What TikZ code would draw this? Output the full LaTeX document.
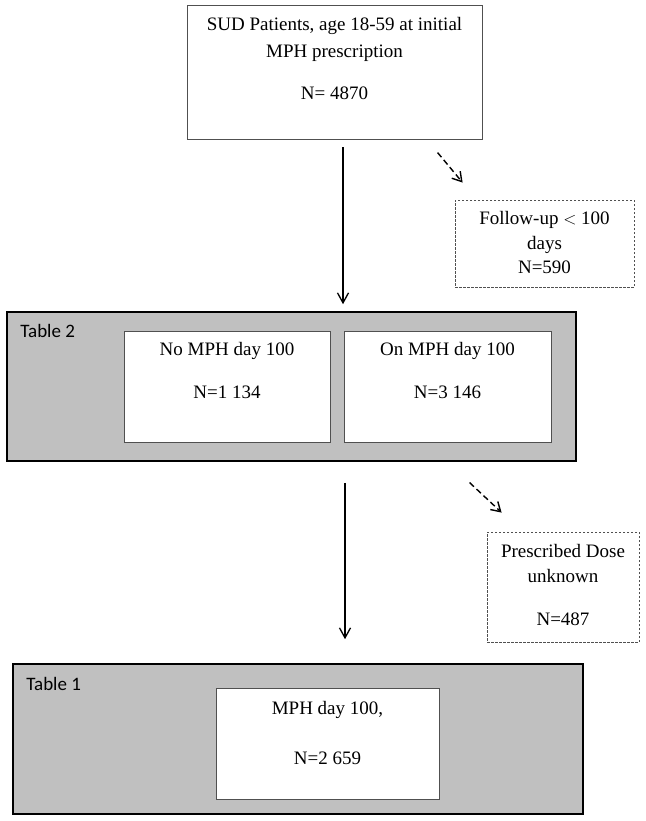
\documentclass[tikz,border=0pt]{standalone}
\usepackage{fontspec}
\setmainfont{Liberation Serif}
\newfontfamily\calibri{Carlito}
\usetikzlibrary{arrows.meta, positioning, calc}

\definecolor{tabgray}{RGB}{192,192,192}
\definecolor{edgegray}{RGB}{80,80,80}

\tikzset{
  box/.style={draw=edgegray, line width=0.9pt, fill=white, inner sep=0pt},
  tabbox/.style={draw=black, line width=1.6pt, fill=tabgray, inner sep=0pt},
  dashbox/.style={draw=edgegray, line width=0.8pt, dash pattern=on 2.5pt off 1.5pt, inner sep=0pt},
  txt/.style={font=\fontsize{19}{25}\selectfont, align=center, inner sep=0pt},
  lbl/.style={font=\calibri\fontsize{19}{23}\selectfont, inner sep=0pt},
  flow/.style={-{Straight Barb[length=10pt,width=11pt]}, line width=1.3pt},
  skip/.style={-{Straight Barb[length=9pt,width=11pt]}, line width=1.4pt, dash pattern=on 6pt off 3.5pt}
}

\begin{document}
\begin{tikzpicture}[x=1pt, y=-1pt]
  \useasboundingbox (0,0) rectangle (645,821);

  % top of the flow
  \node[box, minimum width=295pt, minimum height=134pt] (sud) at (334.5,72) {};
  \node[txt, below=13pt of sud.north] (sudtxt)
    {SUD Patients, age 18-59 at initial\\[2pt] MPH prescription\\[17pt] N= 4870};

  \node[dashbox, minimum width=179pt, minimum height=87pt] (fu) at (544.5,243.5) {};
  \node[txt, below=12pt of fu.north] (futxt)
    {Follow-up $<$ 100\\[0pt] days\\[-1pt] N=590};

  % Table 2
  \node[tabbox, minimum width=569pt, minimum height=149pt] (tab2) at (291.5,386.5) {};
  \node[lbl, anchor=north west] (tab2lbl) at ($(tab2.north west)+(14,13)$) {Table 2};
  \node[box, minimum width=206pt, minimum height=111pt] (nomph) at (227,386.5) {};
  \node[txt, below=12pt of nomph.north] (nomphtxt) {No MPH day 100\\[18pt] N=1 134};
  \node[box, minimum width=207pt, minimum height=111pt] (onmph) at (447.5,386.5) {};
  \node[txt, below=12pt of onmph.north] (onmphtxt) {On MPH day 100\\[18pt] N=3 146};

  \node[dashbox, minimum width=152pt, minimum height=110pt] (dose) at (563,587) {};
  \node[txt, below=13pt of dose.north] (dosetxt)
    {Prescribed Dose\\[0pt] unknown\\[18pt] N=487};

  % Table 1
  \node[tabbox, minimum width=570pt, minimum height=150pt] (tab1) at (298,739) {};
  \node[lbl, anchor=north west] (tab1lbl) at ($(tab1.north west)+(14,14)$) {Table 1};
  \node[box, minimum width=223pt, minimum height=111pt] (mph100) at (327.5,743.5) {};
  \node[txt, below=14pt of mph100.north] (mph100txt) {MPH day 100,\\[25pt] N=2 659};

  % arrows
  \draw[flow] ($(sud.south)+(8.5,8)$) -- ($(tab2.north)+(51.5,-7)$);
  \draw[skip] ($(fu.north west)+(-17,-47)$) -- ($(fu.north west)+(8,-17)$);
  \draw[flow] ($(tab2.south)+(53.5,21)$) -- ($(tab1.north)+(47,-24)$);
  \draw[skip] ($(dose.north west)+(-17,-49)$) -- ($(dose.north west)+(15,-19)$);

\end{tikzpicture}
\end{document}
